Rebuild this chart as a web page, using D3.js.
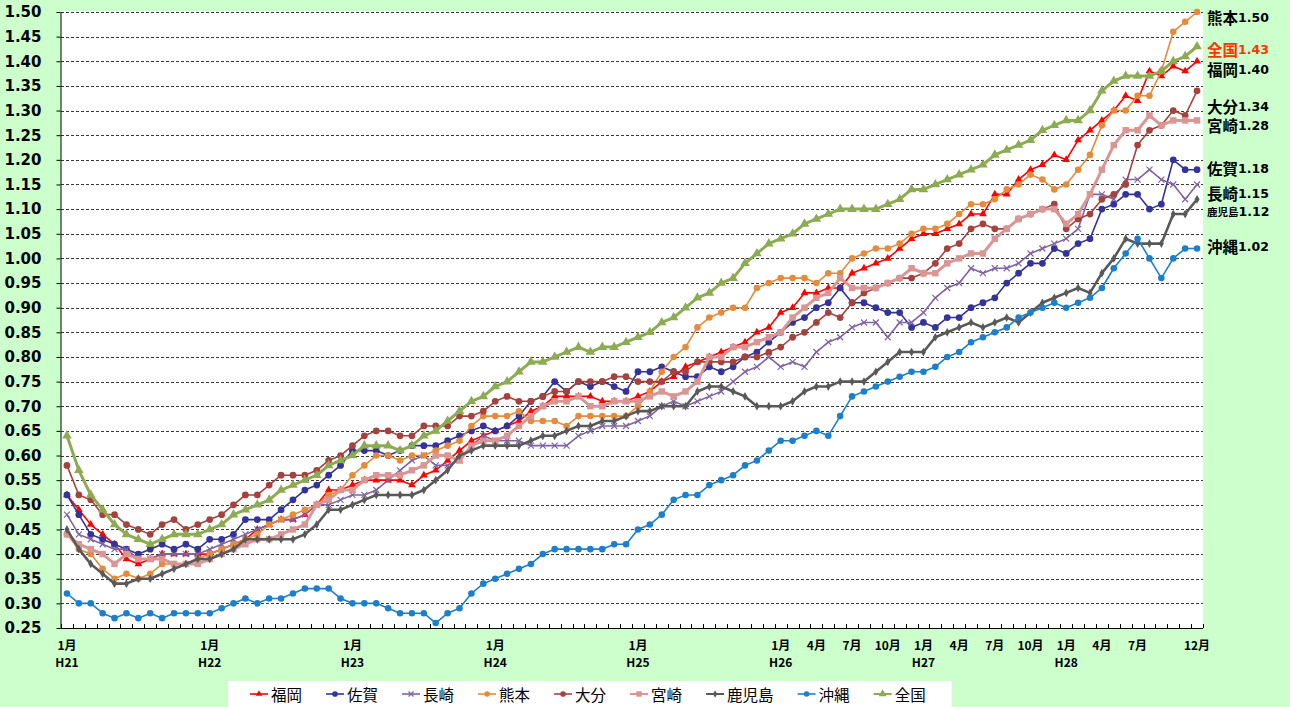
<!DOCTYPE html>
<html>
<head>
<meta charset="utf-8">
<script src="https://d3js.org/d3.v7.min.js"></script>
<style>
  body { margin: 0; background: #ccffcc; }
</style>
</head>
<body>
<div id="graph"></div>
<script>

    // monthly, H21 Jan .. H28 Dec (96 months)
    var categories = d3.range(96);

    var fukuoka = [0.52,0.49,0.46,0.44,0.42,0.39,0.38,0.39,0.40,0.40,0.40,0.40,0.40,0.41,0.42,0.43,0.45,
        0.46,0.47,0.47,0.48,0.50,0.53,0.53,0.54,0.55,0.55,0.55,0.55,0.54,0.56,0.57,
        0.59,0.61,0.63,0.64,0.65,0.66,0.67,0.69,0.70,0.72,0.72,0.72,0.72,0.71,0.71,0.71,
        0.72,0.73,0.75,0.76,0.78,0.79,0.80,0.81,0.82,0.83,0.85,0.86,0.89,0.90,0.93,
        0.93,0.94,0.94,0.97,0.98,0.99,1.00,1.02,1.04,1.05,1.05,1.06,1.07,1.09,1.09,1.13,
        1.13,1.16,1.18,1.19,1.21,1.20,1.24,1.26,1.28,1.30,1.33,1.32,1.38,1.37,1.39,1.38,1.40];
    var saga = [0.52,0.48,0.44,0.43,0.42,0.41,0.40,0.41,0.42,0.41,0.42,0.41,0.43,0.43,0.44,0.47,0.47,
        0.47,0.49,0.51,0.53,0.54,0.56,0.58,0.61,0.61,0.61,0.60,0.61,0.62,0.62,0.62,
        0.63,0.64,0.65,0.66,0.65,0.66,0.68,0.71,0.72,0.75,0.73,0.75,0.74,0.75,0.74,0.73,
        0.77,0.77,0.78,0.77,0.76,0.76,0.78,0.77,0.78,0.80,0.81,0.83,0.85,0.87,0.88,
        0.90,0.91,0.94,0.91,0.91,0.90,0.89,0.89,0.86,0.87,0.86,0.88,0.88,0.90,0.91,0.92,
        0.95,0.97,0.99,0.99,1.02,1.01,1.03,1.04,1.10,1.11,1.13,1.13,1.10,1.11,1.20,1.18,1.18];
    var nagasaki = [0.48,0.44,0.43,0.42,0.41,0.41,0.39,0.39,0.40,0.40,0.40,0.40,0.41,0.42,0.43,0.44,0.45,
        0.46,0.47,0.47,0.48,0.50,0.50,0.51,0.52,0.52,0.53,0.55,0.57,0.59,0.60,0.58,
        0.58,0.59,0.62,0.64,0.63,0.63,0.63,0.62,0.62,0.62,0.62,0.64,0.65,0.66,0.66,0.66,
        0.67,0.68,0.70,0.71,0.70,0.71,0.72,0.73,0.75,0.77,0.78,0.80,0.78,0.79,0.78,
        0.81,0.83,0.84,0.86,0.87,0.87,0.84,0.87,0.87,0.89,0.92,0.94,0.95,0.98,0.97,0.98,
        0.98,0.99,1.01,1.02,1.03,1.04,1.06,1.13,1.13,1.12,1.16,1.16,1.18,1.16,1.15,1.12,1.15];
    var kumamoto = [0.44,0.41,0.40,0.37,0.35,0.36,0.35,0.36,0.38,0.38,0.38,0.39,0.40,0.41,0.42,0.43,0.44,
        0.46,0.47,0.48,0.49,0.50,0.52,0.53,0.56,0.58,0.60,0.60,0.59,0.60,0.60,0.61,
        0.62,0.63,0.66,0.68,0.68,0.68,0.69,0.67,0.67,0.67,0.66,0.68,0.68,0.68,0.68,0.68,
        0.70,0.73,0.77,0.80,0.82,0.86,0.88,0.89,0.90,0.90,0.94,0.95,0.96,0.96,0.96,
        0.95,0.97,0.97,1.00,1.01,1.02,1.02,1.03,1.05,1.06,1.06,1.07,1.09,1.11,1.11,1.12,
        1.14,1.15,1.17,1.16,1.14,1.15,1.18,1.21,1.27,1.30,1.30,1.33,1.33,1.38,1.46,1.48,1.50];
    var oita = [0.58,0.52,0.51,0.48,0.48,0.46,0.45,0.44,0.46,0.47,0.45,0.46,0.47,0.48,0.50,0.52,0.52,
        0.54,0.56,0.56,0.56,0.57,0.59,0.60,0.62,0.64,0.65,0.65,0.64,0.64,0.66,0.66,
        0.66,0.68,0.68,0.69,0.71,0.72,0.71,0.71,0.72,0.73,0.73,0.75,0.75,0.75,0.76,0.76,
        0.75,0.75,0.75,0.77,0.77,0.79,0.79,0.79,0.79,0.80,0.80,0.81,0.82,0.84,0.85,
        0.87,0.89,0.88,0.91,0.93,0.94,0.95,0.96,0.96,0.97,0.99,1.02,1.03,1.06,1.07,1.06,
        1.06,1.08,1.09,1.10,1.11,1.06,1.08,1.09,1.12,1.13,1.15,1.23,1.26,1.27,1.30,1.29,1.34];
    var miyazaki = [0.44,0.42,0.41,0.40,0.38,0.40,0.39,0.39,0.39,0.38,0.38,0.38,0.39,0.40,0.41,0.42,0.43,
        0.43,0.44,0.45,0.46,0.50,0.51,0.53,0.53,0.55,0.56,0.56,0.56,0.57,0.58,0.60,
        0.60,0.59,0.62,0.63,0.63,0.64,0.66,0.68,0.70,0.71,0.71,0.72,0.70,0.70,0.71,0.71,
        0.71,0.72,0.73,0.72,0.73,0.75,0.80,0.80,0.82,0.82,0.83,0.84,0.85,0.88,0.90,
        0.92,0.93,0.96,0.94,0.94,0.94,0.95,0.96,0.98,0.97,0.97,0.99,1.00,1.01,1.01,1.04,
        1.06,1.08,1.09,1.10,1.10,1.07,1.09,1.13,1.18,1.23,1.26,1.26,1.29,1.27,1.28,1.28,1.28];
    var kagoshima = [0.45,0.41,0.38,0.36,0.34,0.34,0.35,0.35,0.36,0.37,0.38,0.39,0.39,0.40,0.41,0.43,0.43,
        0.43,0.43,0.43,0.44,0.46,0.49,0.49,0.50,0.51,0.52,0.52,0.52,0.52,0.53,0.55,
        0.57,0.60,0.61,0.62,0.62,0.62,0.62,0.63,0.64,0.64,0.65,0.66,0.66,0.67,0.67,0.68,
        0.69,0.69,0.70,0.70,0.70,0.73,0.74,0.74,0.73,0.72,0.70,0.70,0.70,0.71,0.73,
        0.74,0.74,0.75,0.75,0.75,0.77,0.79,0.81,0.81,0.81,0.84,0.85,0.86,0.87,0.86,0.87,
        0.88,0.87,0.89,0.91,0.92,0.93,0.94,0.93,0.97,1.00,1.04,1.03,1.03,1.03,1.09,1.09,1.12];
    var okinawa = [0.32,0.30,0.30,0.28,0.27,0.28,0.27,0.28,0.27,0.28,0.28,0.28,0.28,0.29,0.30,0.31,0.30,
        0.31,0.31,0.32,0.33,0.33,0.33,0.31,0.30,0.30,0.30,0.29,0.28,0.28,0.28,0.26,
        0.28,0.29,0.32,0.34,0.35,0.36,0.37,0.38,0.40,0.41,0.41,0.41,0.41,0.41,0.42,0.42,
        0.45,0.46,0.48,0.51,0.52,0.52,0.54,0.55,0.56,0.58,0.59,0.61,0.63,0.63,0.64,
        0.65,0.64,0.68,0.72,0.73,0.74,0.75,0.76,0.77,0.77,0.78,0.80,0.81,0.83,0.84,0.85,
        0.86,0.88,0.89,0.90,0.91,0.90,0.91,0.92,0.94,0.98,1.01,1.04,1.00,0.96,1.00,1.02,1.02];
    var zenkoku = [0.64,0.57,0.52,0.49,0.46,0.44,0.43,0.42,0.43,0.44,0.44,0.44,0.45,0.46,0.48,0.49,0.50,
        0.51,0.53,0.54,0.55,0.56,0.58,0.59,0.60,0.62,0.62,0.62,0.61,0.62,0.64,0.65,
        0.67,0.69,0.71,0.72,0.74,0.75,0.77,0.79,0.79,0.80,0.81,0.82,0.81,0.82,0.82,0.83,
        0.84,0.85,0.87,0.88,0.90,0.92,0.93,0.95,0.96,0.99,1.01,1.03,1.04,1.05,1.07,
        1.08,1.09,1.10,1.10,1.10,1.10,1.11,1.12,1.14,1.14,1.15,1.16,1.17,1.18,1.19,1.21,
        1.22,1.23,1.24,1.26,1.27,1.28,1.28,1.30,1.34,1.36,1.37,1.37,1.37,1.38,1.40,1.41,1.43];

    var yTicks = [0.25,0.30,0.35,0.40,0.45,0.50,0.55,0.60,0.65,0.70,0.75,0.80,0.85,0.90,
        0.95,1.00,1.05,1.10,1.15,1.20,1.25,1.30,1.35,1.40,1.45,1.50];
    var monthTickIdx = [0,12,24,36,48,60,63,66,69,72,75,78,81,84,87,90,95];
    var monthTickText = ["1月","1月","1月","1月","1月","1月","4月","7月","10月","1月","4月","7月","10月","1月","4月","7月","12月"];
    var yearTickIdx = [0,12,24,36,48,60,72,84];
    var yearTickText = ["H21","H22","H23","H24","H25","H26","H27","H28"];

    var names = ["福岡","佐賀","長崎","熊本","大分","宮崎","鹿児島","沖縄","全国"];
    var values = [fukuoka, saga, nagasaki, kumamoto, oita, miyazaki, kagoshima, okinawa, zenkoku];

    // look of each series
    var styles = {
        "福岡":   { color: "#ff0000", width: 1.6, marker: "triangle", size: 26 },
        "佐賀":   { color: "#333399", width: 1.6, marker: "circle", size: 36 },
        "長崎":   { color: "#8064a2", width: 1.6, marker: "x", size: 3 },
        "熊本":   { color: "#e68a3c", width: 1.6, marker: "circle", size: 34 },
        "大分":   { color: "#a5423e", width: 1.6, marker: "circle", size: 36 },
        "宮崎":   { color: "#d99694", width: 3, marker: "square", size: 42 },
        "鹿児島": { color: "#595959", width: 2.6, marker: "diamond", size: 22 },
        "沖縄":   { color: "#1b7fcc", width: 1.6, marker: "circle", size: 34 },
        "全国":   { color: "#8dab52", width: 3, marker: "triangle", size: 40 }
    };

    // right hand labels: order and vertical nudge from the last point
    var endLabels = [
        { name: "熊本", dy: 5 },
        { name: "全国", dy: 2.5, color: "#ff3300" },
        { name: "福岡", dy: 8 },
        { name: "大分", dy: 15 },
        { name: "宮崎", dy: 5 },
        { name: "佐賀", dy: -2 },
        { name: "長崎", dy: 9 },
        { name: "鹿児島", dy: 12, small: true },
        { name: "沖縄", dy: -3 }
    ];

    var width = 1290, height = 707;
    var plot = { left: 61, right: 1203, top: 12, bottom: 628 };

    var svg = d3.select("#graph")
        .append("svg")
        .attr("width", width)
        .attr("height", height)
        .style("display", "block");

    svg.append("rect")
        .attr("width", width)
        .attr("height", height)
        .attr("fill", "#ccffcc");

    svg.append("rect")
        .attr("x", plot.left)
        .attr("y", plot.top - 1)
        .attr("width", plot.right - plot.left)
        .attr("height", plot.bottom - plot.top + 1)
        .attr("fill", "#ffffff");

    var x = d3.scalePoint()
        .domain(categories)
        .range([plot.left, plot.right])
        .padding(0.5);

    var xb = d3.scaleBand()
        .domain(categories)
        .range([plot.left, plot.right]);

    var y = d3.scaleLinear()
        .domain([0.25, 1.5])
        .range([plot.bottom, plot.top]);

    // dashed gridlines
    svg.append("g")
        .selectAll("line")
        .data(yTicks.slice(1))
        .enter()
        .append("line")
        .attr("x1", plot.left)
        .attr("x2", plot.right)
        .attr("y1", function (d) { return Math.round(y(d)) + 0.5; })
        .attr("y2", function (d) { return Math.round(y(d)) + 0.5; })
        .attr("stroke", "#3a3a3a")
        .attr("stroke-width", 1)
        .attr("stroke-dasharray", "3,2");

    // y axis
    var yAxis = svg.append("g")
        .attr("transform", "translate(" + (plot.left - 0.5) + ",0)")
        .call(d3.axisLeft(y).tickValues(yTicks).tickFormat(d3.format(".2f")).tickSize(4).tickSizeOuter(0).tickPadding(15));
    yAxis.selectAll("text")
        .attr("font-family", "DejaVu Sans")
        .attr("font-weight", "bold")
        .attr("font-size", "15px")
        .attr("fill", "#000");
    yAxis.selectAll("line, path").attr("stroke", "#000");

    // x axis line with small ticks on category boundaries
    var xAxis = svg.append("g");
    xAxis.append("line")
        .attr("x1", plot.left - 0.5)
        .attr("x2", plot.right)
        .attr("y1", plot.bottom + 0.5)
        .attr("y2", plot.bottom + 0.5)
        .attr("stroke", "#000");
    xAxis.selectAll("line.tick")
        .data(categories.concat([categories.length]))
        .enter()
        .append("line")
        .attr("class", "tick")
        .attr("x1", function (d) { return Math.round(d < categories.length ? xb(d) : plot.right) + 0.5; })
        .attr("x2", function (d) { return Math.round(d < categories.length ? xb(d) : plot.right) + 0.5; })
        .attr("y1", plot.bottom)
        .attr("y2", plot.bottom - 4)
        .attr("stroke", "#000");

    xAxis.selectAll("text.month")
        .data(monthTickIdx)
        .enter()
        .append("text")
        .attr("class", "month")
        .attr("x", function (d) { return x(d); })
        .attr("y", 650)
        .attr("text-anchor", "middle")
        .attr("font-family", "Noto Sans CJK JP")
        .attr("font-weight", "bold")
        .attr("font-size", "12px")
        .text(function (d, i) { return monthTickText[i]; });

    xAxis.selectAll("text.year")
        .data(yearTickIdx)
        .enter()
        .append("text")
        .attr("class", "year")
        .attr("x", function (d) { return x(d); })
        .attr("y", 667)
        .attr("text-anchor", "middle")
        .attr("font-family", "Noto Sans CJK JP")
        .attr("font-weight", "bold")
        .attr("font-size", "12px")
        .text(function (d, i) { return yearTickText[i]; });

    function markerPath(st) {
        if (st.marker === "x") {
            var r = st.size;
            return "M" + (-r) + "," + (-r) + "L" + r + "," + r + "M" + (-r) + "," + r + "L" + r + "," + (-r);
        }
        var types = { triangle: d3.symbolTriangle, circle: d3.symbolCircle, square: d3.symbolSquare, diamond: d3.symbolDiamond };
        return d3.symbol().type(types[st.marker]).size(st.size)();
    }

    function styleMarker(sel, st) {
        if (st.marker === "x") {
            sel.attr("fill", "none").attr("stroke", st.color).attr("stroke-width", 1.2);
        } else {
            sel.attr("fill", st.color).attr("stroke", "none");
        }
    }

    var line = d3.line()
        .x(function (d, i) { return x(i); })
        .y(function (d) { return y(d); });

    names.forEach(function (name, k) {
        var st = styles[name];
        var g = svg.append("g");
        g.append("path")
            .datum(values[k])
            .attr("d", line)
            .attr("fill", "none")
            .attr("stroke", st.color)
            .attr("stroke-width", st.width)
            .attr("stroke-linejoin", "round");
        g.selectAll("path.marker")
            .data(values[k])
            .enter()
            .append("path")
            .attr("class", "marker")
            .attr("d", markerPath(st))
            .attr("transform", function (d, i) { return "translate(" + x(i) + "," + y(d) + ")"; })
            .call(styleMarker, st);
    });

    // labels at the right end
    var endG = svg.append("g");
    endLabels.forEach(function (lab) {
        var k = names.indexOf(lab.name);
        var last = values[k][values[k].length - 1];
        var t = endG.append("text")
            .attr("x", 1207)
            .attr("y", y(last) + lab.dy)
            .attr("dominant-baseline", "central")
            .attr("font-weight", "bold")
            .attr("fill", lab.color || "#000");
        t.append("tspan")
            .attr("font-family", "Noto Sans CJK JP")
            .attr("font-size", lab.small ? "10.5px" : "15.5px")
            .text(lab.name);
        t.append("tspan")
            .attr("font-family", "DejaVu Sans")
            .attr("font-size", "12.5px")
            .text(d3.format(".2f")(last));
    });

    // legend
    var legend = svg.append("g");
    var box = legend.append("rect")
        .attr("y", 681)
        .attr("height", 30)
        .attr("fill", "#ffffff");
    var lx = 250, ly = 694;
    names.forEach(function (name) {
        var st = styles[name];
        legend.append("line")
            .attr("x1", lx)
            .attr("x2", lx + 18)
            .attr("y1", ly)
            .attr("y2", ly)
            .attr("stroke", st.color)
            .attr("stroke-width", Math.min(st.width, 2));
        var m = legend.append("path")
            .attr("d", markerPath({ marker: st.marker, size: st.marker === "x" ? 2.5 : st.size * 0.7 }))
            .attr("transform", "translate(" + (lx + 9) + "," + ly + ")");
        styleMarker(m, st);
        var t = legend.append("text")
            .attr("x", lx + 21)
            .attr("y", ly)
            .attr("dominant-baseline", "central")
            .attr("font-family", "Noto Sans CJK JP")
            .attr("font-size", "15.5px")
            .attr("fill", "#000")
            .text(name);
        lx = lx + 21 + t.node().getComputedTextLength() + 24;
    });
    box.attr("x", 228).attr("width", lx - 24 + 26 - 228);

</script>
</body>
</html>
